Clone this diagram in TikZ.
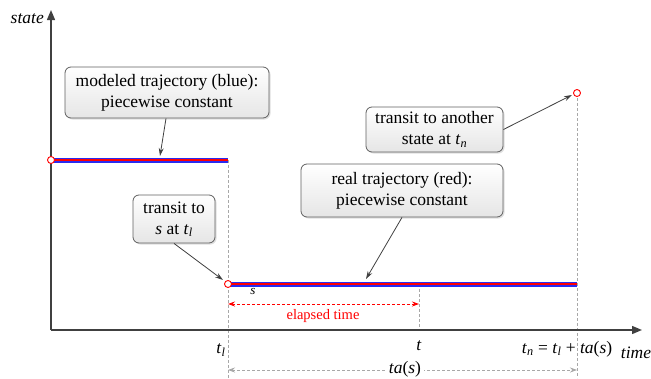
\documentclass[tikz,border=0pt]{standalone}
\usepackage{amsmath}
\usepackage{fontspec}
\setmainfont{Liberation Serif}
\newfontfamily\tnr{Liberation Serif}
\usetikzlibrary{arrows.meta,shadows}
\definecolor{axisgray}{HTML}{404040}
\definecolor{dashgray}{HTML}{A8A8A8}
\definecolor{boxborder}{HTML}{606060}
\definecolor{trajblue}{HTML}{2A2AF0}
\tikzset{
  axisline/.style={draw=axisgray,line width=1.4pt,-{Triangle[length=10pt,width=8pt]}},
  callout/.style={draw=boxborder,line width=0.8pt,rounded corners=6pt,
    top color=white,bottom color=black!10,align=center,inner sep=2pt,
    font=\tnr\fontsize{17.5}{21}\selectfont,
    drop shadow={opacity=0.25,shadow xshift=1.5pt,shadow yshift=-1.5pt}},
  pointer/.style={draw=axisgray,line width=0.8pt,-{Stealth[length=8pt,width=5pt]}},
  guide/.style={draw=dashgray,line width=0.8pt,dash pattern=on 3pt off 2pt},
  bluetraj/.style={draw=trajblue,line width=5pt},
  redtraj/.style={draw=red,line width=1.4pt},
  marker/.style={circle,draw=red,fill=white,line width=0.9pt,minimum size=7pt,inner sep=0pt},
  lbl/.style={font=\tnr\fontsize{17.5}{21}\selectfont,inner sep=1pt},
}
\begin{document}
\begin{tikzpicture}[x=1pt,y=-1pt]
\useasboundingbox (0,0) rectangle (651,378);
% key coordinates
\coordinate (O) at (51,330);
\coordinate (ytop) at (51,10);
\coordinate (xend) at (642,330);
\coordinate (p0) at (51,160);
\coordinate (p1) at (228,160);
\coordinate (q0) at (228,284);
\coordinate (q1) at (577,284);
\coordinate (pn) at (577,93);
\coordinate (tl) at (228,330);
\coordinate (tt) at (419,330);
\coordinate (tq) at (419,284);
\coordinate (lbot) at (228,378);
\coordinate (nbot) at (577,378);
% guides
\draw[guide] (p1) -- (lbot);
\draw[guide] (pn) -- (nbot);
\draw[guide] (tq) -- (tt);
% axes
\draw[axisline] (O) -- (ytop);
\draw[axisline] (O) -- (xend);
\node[lbl,anchor=east,font=\tnr\fontsize{17.5}{21}\selectfont\itshape] (ylab) at (45,19) {state};
\node[lbl,font=\tnr\fontsize{17.5}{21}\selectfont\itshape] (xlab) at (636,353) {time};
% trajectories
\draw[bluetraj] (p0) -- (p1);
\draw[redtraj] (p0) -- (p1);
\draw[bluetraj] (q0) -- (q1);
\draw[redtraj] (q0) -- (q1);
\node[marker] (m0) at (p0) {};
\node[marker] (m1) at (q0) {};
\node[marker] (m2) at (pn) {};
% time labels
\node[lbl] (ltl) at (221,350) {\textit{t}$_{\textit{l}}$};
\node[lbl] (lt) at (419,346) {\textit{t}};
\node[lbl] (ltn) at (567,349) {\textit{t}$_{\textit{n}}$ = \textit{t}$_{\textit{l}}$ + \textit{ta}(\textit{s})};
\node[font=\tnr\fontsize{13}{15}\selectfont\itshape,inner sep=1pt] (ls) at (253,291) {s};
% elapsed time
\coordinate (e0) at (228,304);
\coordinate (e1) at (419,304);
\draw[red,line width=0.9pt,dash pattern=on 3pt off 2pt,{Stealth[length=7pt,width=5pt]}-{Stealth[length=7pt,width=5pt]}] (e0) -- (e1);
\node[red,font=\tnr\fontsize{14.5}{17}\selectfont,inner sep=1pt] (el) at (323,316) {elapsed time};
% ta(s)
\coordinate (a0) at (228,370);
\coordinate (a1) at (577,370);
\draw[dashgray,line width=0.8pt,dash pattern=on 3pt off 2pt,{Stealth[length=7pt,width=5pt]}-{Stealth[length=7pt,width=5pt]}] (a0) -- (a1);
\node[lbl,fill=white,inner sep=3pt] (ta) at (405,369) {\textit{ta}(\textit{s})};
% callouts
\node[callout,minimum width=204pt,minimum height=51pt] (b1) at (167,92.5) {modeled trajectory (blue):\\piecewise constant};
\node[callout,minimum width=82pt,minimum height=48pt] (b2) at (174,219) {transit to\\\textit{s} at \textit{t}$_{\textit{l}}$};
\node[callout,minimum width=202pt,minimum height=53pt] (b3) at (402,190.5) {real trajectory (red):\\piecewise constant};
\node[callout,minimum width=137pt,minimum height=45pt] (b4) at (434.5,129.5) {transit to another\\state at \textit{t}$_{\textit{n}}$};
% pointers
\coordinate (c1) at (160,156);
\coordinate (c2) at (223,280);
\coordinate (c3) at (366,279);
\coordinate (c4) at (572,95);
\draw[pointer] (b1.south) ++(-1,0) -- (c1);
\draw[pointer] (b2.south) -- (c2);
\draw[pointer] (b3.south) -- (c3);
\draw[pointer] (b4.east) -- (c4);
\end{tikzpicture}
\end{document}
